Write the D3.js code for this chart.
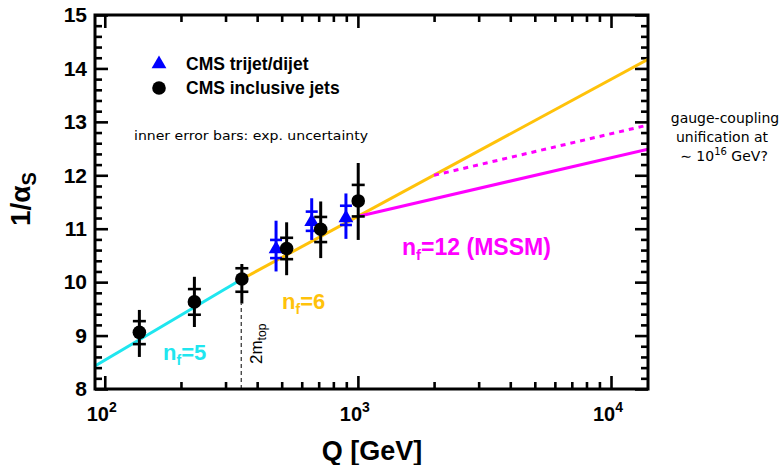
<!DOCTYPE html>
<html>
<head>
<meta charset="utf-8">
<script src="https://cdn.jsdelivr.net/npm/d3@7/dist/d3.min.js"></script>
<style>
  html, body { margin: 0; padding: 0; background: #fff; }
  svg { display: block; }
</style>
</head>
<body>
<svg id="chart" width="782" height="465"></svg>
<script>
// CMS inclusive jets: scale Q [GeV], 1/alpha_s, total and experimental error ranges
const jetQ      = [137, 226, 348, 523, 713, 1003];
const jetVal    = [9.06, 9.63, 10.06, 10.63, 10.99, 11.52];
const jetTotLo  = [8.60, 9.16, 9.60, 10.13, 10.45, 10.79];
const jetTotHi  = [9.48, 10.10, 10.34, 11.12, 11.51, 12.23];
const jetExpLo  = [8.84, 9.39, 9.82, 10.43, 10.75, 11.23];
const jetExpHi  = [9.27, 9.87, 10.26, 10.83, 11.22, 11.82];

// CMS trijet/dijet ratio
const triQ      = [475, 657, 897];
const triVal    = [10.62, 11.13, 11.20];
const triTotLo  = [10.20, 10.79, 10.81];
const triTotHi  = [11.15, 11.57, 11.66];
const triExpLo  = [10.45, 10.96, 11.07];
const triExpHi  = [10.79, 11.32, 11.43];

// Running of 1/alpha_s: end points of each straight (log-Q) segment
const nf5Q   = [91.5, 346];   const nf5Val   = [8.43, 10.05];
const nf6Q   = [346, 14000];  const nf6Val   = [10.05, 14.17];
const mssmQ  = [1000, 14000]; const mssmVal  = [11.23, 12.49];
const mssm2Q = [2000, 14000]; const mssm2Val = [12.00, 12.94];

// top-pair threshold marker
const topQ = 346;
const topMarkRange = [8, 9.6];

// axis ticks
const xMajor = [100, 1000, 10000];
const xExp   = ["2", "3", "4"];
const xMinor = [200, 300, 400, 500, 600, 700, 800, 900,
                2000, 3000, 4000, 5000, 6000, 7000, 8000, 9000];
const yMajor = [8, 9, 10, 11, 12, 13, 14, 15];
const yMinor = d3.range(8, 15.001, 0.2).map(v => +v.toFixed(1))
                 .filter(v => Math.abs(v - Math.round(v)) > 1e-6);

const L = 95, R = 648, T = 15, B = 389;

const svg = d3.select("#chart");
const x = d3.scaleLog().domain([91.5, 14000]).range([L, R]);
const y = d3.scaleLinear().domain([8, 15]).range([B, T]);

const CYAN = "#1fe6ef", GOLD = "#ffc20a", MAG = "#ff00ff", BLUE = "#0000ff";
const BOLD = "'Liberation Sans', Arial, Helvetica, sans-serif";
const SANS = "'DejaVu Sans', 'Open Sans', sans-serif";

// ---- ticks (inward on all four sides) ----
function ticks(gen, values, size, tr) {
  const g = svg.append("g").attr("transform", tr)
    .call(gen.tickValues(values).tickSize(size).tickFormat(""));
  g.select(".domain").remove();
  g.selectAll(".tick line").attr("stroke", "#000").attr("stroke-width", 2.6);
  return g;
}
ticks(d3.axisBottom(x), xMajor, -13, `translate(0,${B})`);
ticks(d3.axisBottom(x), xMinor, -7, `translate(0,${B})`);
ticks(d3.axisTop(x), xMajor, -13, `translate(0,${T})`);
ticks(d3.axisTop(x), xMinor, -7, `translate(0,${T})`);
ticks(d3.axisLeft(y), yMinor, -7, `translate(${L},0)`);
ticks(d3.axisRight(y), yMajor, -13, `translate(${R},0)`);
ticks(d3.axisRight(y), yMinor, -7, `translate(${R},0)`);

// left axis with numeric labels
const yAx = svg.append("g").attr("transform", `translate(${L},0)`)
  .call(d3.axisLeft(y).tickValues(yMajor).tickSize(-13).tickPadding(8).tickFormat(d3.format("d")));
yAx.select(".domain").remove();
yAx.selectAll(".tick line").attr("stroke", "#000").attr("stroke-width", 2.6);
yAx.selectAll(".tick text").attr("fill", "#000")
  .style("font-family", BOLD).style("font-weight", "bold").style("font-size", "21px");

// x labels 10^n
const xl = svg.append("g");
xMajor.forEach((v, i) => {
  const t = xl.append("text").attr("x", x(v) - 3).attr("y", 421)
    .attr("text-anchor", "middle")
    .style("font-family", BOLD).style("font-weight", "bold").style("font-size", "20px");
  t.append("tspan").text("10");
  t.append("tspan").attr("dy", -9).style("font-size", "14px").text(xExp[i]);
});

// axis titles
svg.append("text").attr("x", 372).attr("y", 460).attr("text-anchor", "middle")
  .style("font-family", BOLD).style("font-weight", "bold").style("font-size", "27px")
  .text("Q [GeV]");

const yt = svg.append("text")
  .attr("transform", "translate(30,226) rotate(-90)")
  .style("font-family", BOLD).style("font-weight", "bold").style("font-size", "28px");
yt.append("tspan").text("1/α");
yt.append("tspan").attr("dy", 6).style("font-size", "20px").text("S");

// ---- plot area ----
svg.append("clipPath").attr("id", "plotclip")
  .append("rect").attr("x", L).attr("y", T).attr("width", R - L).attr("height", B - T);
const plot = svg.append("g").attr("clip-path", "url(#plotclip)");

const line = d3.line().x(d => x(d[0])).y(d => y(d[1]));
function seg(qs, vs, color, dash) {
  plot.append("path").datum(qs.map((q, i) => [q, vs[i]]))
    .attr("d", line).attr("fill", "none").attr("stroke", color)
    .attr("stroke-width", 3).attr("stroke-dasharray", dash || null);
}
seg(nf5Q, nf5Val, CYAN);
seg(nf6Q, nf6Val, GOLD);
seg(mssmQ, mssmVal, MAG);
seg(mssm2Q, mssm2Val, MAG, "5,5");

// 2 m_top threshold
plot.append("line")
  .attr("x1", x(topQ)).attr("x2", x(topQ))
  .attr("y1", y(topMarkRange[0])).attr("y2", y(topMarkRange[1]))
  .attr("stroke", "#000").attr("stroke-width", 1).attr("stroke-dasharray", "4,3");

// error bars: full vertical line for total, crossbars at experimental limits
function errorBars(qs, lo, hi, elo, ehi, color, cw) {
  const g = plot.append("g").attr("stroke", color);
  qs.forEach((q, i) => {
    const cx = x(q);
    g.append("line").attr("x1", cx).attr("x2", cx)
      .attr("y1", y(lo[i])).attr("y2", y(hi[i])).attr("stroke-width", 3);
    [elo[i], ehi[i]].forEach(v => {
      g.append("line").attr("x1", cx - cw / 2).attr("x2", cx + cw / 2)
        .attr("y1", y(v)).attr("y2", y(v)).attr("stroke-width", 2.6);
    });
  });
}
errorBars(triQ, triTotLo, triTotHi, triExpLo, triExpHi, BLUE, 12);
errorBars(jetQ, jetTotLo, jetTotHi, jetExpLo, jetExpHi, "#000", 13);

const tri = d3.symbol().type(d3.symbolTriangle).size(95);
plot.selectAll(".tri").data(triQ).join("path")
  .attr("transform", (d, i) => `translate(${x(d)},${y(triVal[i])})`)
  .attr("d", tri).attr("fill", BLUE);
plot.selectAll(".dot").data(jetQ).join("circle")
  .attr("cx", d => x(d)).attr("cy", (d, i) => y(jetVal[i])).attr("r", 6.8)
  .attr("fill", "#000");

// frame
svg.append("rect").attr("x", L).attr("y", T).attr("width", R - L).attr("height", B - T)
  .attr("fill", "none").attr("stroke", "#000").attr("stroke-width", 3);

// ---- legend ----
svg.append("path").attr("transform", "translate(159,64)").attr("d", tri).attr("fill", BLUE);
svg.append("circle").attr("cx", 159).attr("cy", 88).attr("r", 6.8).attr("fill", "#000");
[["CMS trijet/dijet", 70], ["CMS inclusive jets", 94]].forEach(([s, yy]) => {
  svg.append("text").attr("x", 186).attr("y", yy)
    .style("font-family", BOLD).style("font-weight", "bold").style("font-size", "17.5px")
    .text(s);
});

svg.append("text").attr("x", 134).attr("y", 140)
  .attr("textLength", 234).attr("lengthAdjust", "spacingAndGlyphs")
  .style("font-family", SANS).style("font-size", "13px")
  .text("inner error bars:  exp.  uncertainty");

// ---- curve labels ----
function nfLabel(xx, yy, color, rest, size) {
  const t = svg.append("text").attr("x", xx).attr("y", yy).attr("fill", color)
    .style("font-family", BOLD).style("font-weight", "bold").style("font-size", size + "px");
  t.append("tspan").text("n");
  t.append("tspan").attr("dy", 5).style("font-size", Math.round(size * 0.65) + "px").text("f");
  t.append("tspan").attr("dy", -5).text(rest);
}
nfLabel(163, 360, CYAN, "=5", 22);
nfLabel(282, 309, GOLD, "=6", 22);
nfLabel(402, 255, MAG, "=12 (MSSM)", 23);

// 2 m_top label (rotated)
const mt = svg.append("text").attr("transform", `translate(${x(topQ) + 21},364) rotate(-90)`)
  .style("font-family", BOLD).style("font-size", "17px").attr("fill", "#000");
mt.append("tspan").text("2m");
mt.append("tspan").attr("dy", 4).style("font-size", "12px").text("top");

// ---- side annotation ----
const side = svg.append("g").style("font-family", SANS).style("font-size", "14px")
  .attr("text-anchor", "middle");
side.append("text").attr("x", 725).attr("y", 123).text("gauge-coupling");
side.append("text").attr("x", 722).attr("y", 142).text("unification at");
const l3 = side.append("text").attr("x", 724).attr("y", 161);
l3.append("tspan").text("∼ 10");
l3.append("tspan").attr("dy", -6).style("font-size", "10px").text("16");
l3.append("tspan").attr("dy", 6).text(" GeV?");
</script>
</body>
</html>
